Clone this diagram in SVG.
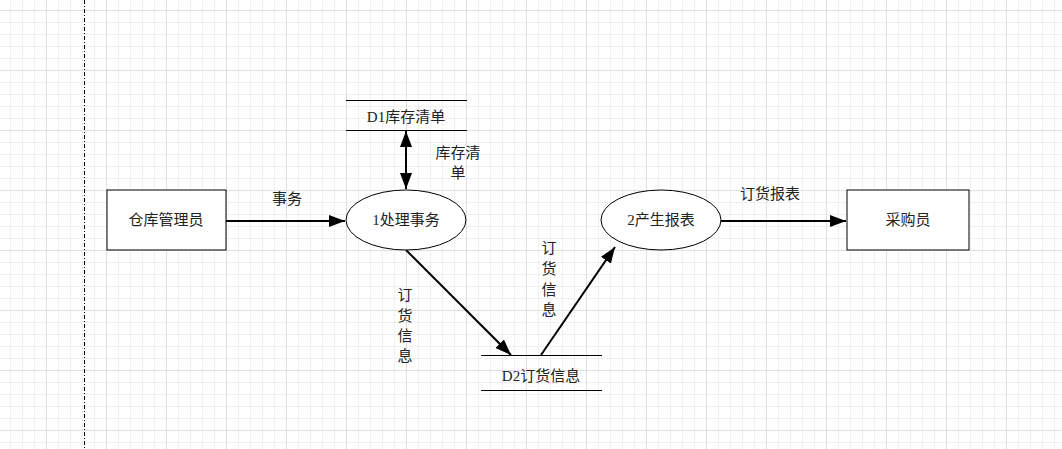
<svg xmlns="http://www.w3.org/2000/svg" width="1062" height="449" viewBox="0 0 1062 449">
<style>
.t{font-family:"Liberation Serif","Noto Sans CJK SC",serif;font-size:15px;fill:#222;text-anchor:middle;dominant-baseline:central}
.ln{stroke:#000;stroke-width:2;fill:none}
.sh{stroke:#000;stroke-width:1;fill:#fff}
</style>
<defs>
<pattern id="g" x="10" y="10" width="12" height="12" patternUnits="userSpaceOnUse">
<path d="M0 0H12M0 0V12" stroke="#e2e2e2" stroke-width="1" fill="none"/>
</pattern>
<pattern id="G" x="46" y="10" width="60" height="60" patternUnits="userSpaceOnUse">
<path d="M0 0H60M0 0V60" stroke="#cfcfcf" stroke-width="1" fill="none"/>
</pattern>
<marker id="a" viewBox="0 0 16 12" refX="16" refY="6" markerWidth="16" markerHeight="12" markerUnits="userSpaceOnUse" orient="auto-start-reverse">
<path d="M0 0L16 6L0 12Z" fill="#000"/>
</marker>
</defs>
<rect width="1062" height="449" fill="#fff"/>
<rect width="1062" height="449" fill="url(#g)"/>
<rect width="1062" height="449" fill="url(#G)"/>
<line x1="84.5" y1="0" x2="84.5" y2="449" stroke="#000" stroke-width="1" stroke-dasharray="4,2,1,2"/>
<g id="connectors">
<line class="ln" x1="226" y1="221" x2="345" y2="221" marker-end="url(#a)"/>
<line class="ln" x1="406" y1="131" x2="406" y2="189" marker-start="url(#a)" marker-end="url(#a)"/>
<line class="ln" x1="406" y1="250" x2="511" y2="355" marker-end="url(#a)"/>
<line class="ln" x1="541" y1="355" x2="615" y2="247" marker-end="url(#a)"/>
<line class="ln" x1="721" y1="221" x2="846" y2="221" marker-end="url(#a)"/>
<text class="t" x="287" y="199">事务</text>
<text class="t" x="458" y="153">库存清</text>
<text class="t" x="458" y="173">单</text>
<text class="t" x="405" y="295">订</text>
<text class="t" x="405" y="316">货</text>
<text class="t" x="405" y="336">信</text>
<text class="t" x="405" y="356">息</text>
<text class="t" x="549" y="248">订</text>
<text class="t" x="549" y="269">货</text>
<text class="t" x="549" y="290">信</text>
<text class="t" x="549" y="310">息</text>
<text class="t" x="770" y="194">订货报表</text>
</g>
<g id="n1"><rect class="sh" x="107" y="190" width="119" height="60"/><text class="t" x="166" y="220">仓库管理员</text></g>
<g id="n2"><ellipse class="sh" cx="406" cy="220" rx="60" ry="30"/><text class="t" x="406" y="220">1处理事务</text></g>
<g id="n3"><line x1="346" y1="100.5" x2="467" y2="100.5" stroke="#000"/><line x1="346" y1="130.5" x2="467" y2="130.5" stroke="#000"/><text class="t" x="406" y="117">D1库存清单</text></g>
<g id="n4"><line x1="481" y1="355.5" x2="602" y2="355.5" stroke="#000"/><line x1="481" y1="390.5" x2="602" y2="390.5" stroke="#000"/><text class="t" x="541" y="376">D2订货信息</text></g>
<g id="n5"><ellipse class="sh" cx="661" cy="220" rx="60" ry="30"/><text class="t" x="661" y="220">2产生报表</text></g>
<g id="n6"><rect class="sh" x="847" y="190" width="122" height="60"/><text class="t" x="908" y="220">采购员</text></g>
</svg>
